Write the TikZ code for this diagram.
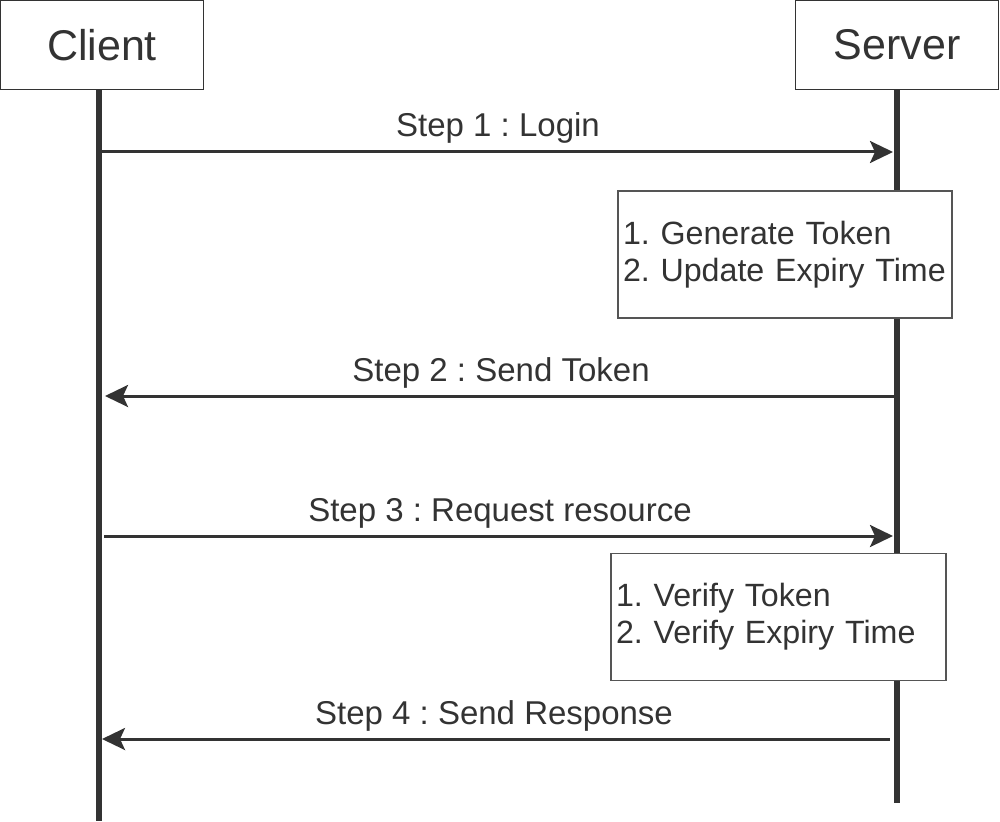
\documentclass[tikz,border=0pt]{standalone}
\usepackage{fontspec}
\setmainfont{Liberation Sans}
\usetikzlibrary{arrows.meta}
\definecolor{ink}{HTML}{333333}
\definecolor{notedraw}{HTML}{555555}
\frenchspacing
\begin{document}
\begin{tikzpicture}[x=1pt,y=-1pt,
  actor/.style={draw=ink, line width=1.3pt, fill=white, minimum width=202.5pt, minimum height=88.7pt, inner sep=0pt, text=ink, font=\fontsize{43}{50}\selectfont\frenchspacing},
  lifeline/.style={draw=ink, line width=6pt},
  msg/.style={draw=ink, line width=3pt, -{Stealth[length=23pt,width=22pt,inset=5pt]}},
  msglabel/.style={text=ink, font=\fontsize{33}{38}\selectfont\frenchspacing, anchor=base, inner sep=0pt},
  note/.style={draw=notedraw, line width=1.2pt, fill=white, inner xsep=5pt, inner ysep=0pt, minimum height=127pt, align=left, text=ink, font=\fontsize{32.2}{37}\selectfont\frenchspacing}]
\useasboundingbox (0,0) rectangle (1000,821);

% lifeline end points
\coordinate (cend) at (99,821);
\coordinate (send) at (897,803);

% actors
\node[actor] (client) at (102,45) {Client};
\node[actor] (server) at (897,45) {Server};

% lifelines
\draw[lifeline] (cend |- client.south) -- (cend);
\draw[lifeline] (server.south) -- (send);

% message end points
\coordinate (m1s) at (102,152);
\coordinate (m1e) at (893,152);
\coordinate (m2s) at (895,396);
\coordinate (m2e) at (105,396);
\coordinate (m3s) at (104,536);
\coordinate (m3e) at (893,536);
\coordinate (m4s) at (890,739);
\coordinate (m4e) at (102,739);

% notes
\node[note, text width=324pt] (n1) at (785,254.5) {1. Generate Token\\2. Update Expiry Time};
\node[note, text width=325pt] (n2) at (778.5,617) {1. Verify Token\\2. Verify Expiry Time};

% messages
\draw[msg] (m1s) -- (m1e);
\draw[msg] (m2s) -- (m2e);
\draw[msg] (m3s) -- (m3e);
\draw[msg] (m4s) -- (m4e);

% labels
\node[msglabel] (l1) at (498,137) {Step 1 : Login};
\node[msglabel] (l2) at (501,381) {Step 2 : Send Token};
\node[msglabel] (l3) at (500,521) {Step 3 : Request resource};
\node[msglabel] (l4) at (494,724) {Step 4 : Send Response};
\end{tikzpicture}
\end{document}
